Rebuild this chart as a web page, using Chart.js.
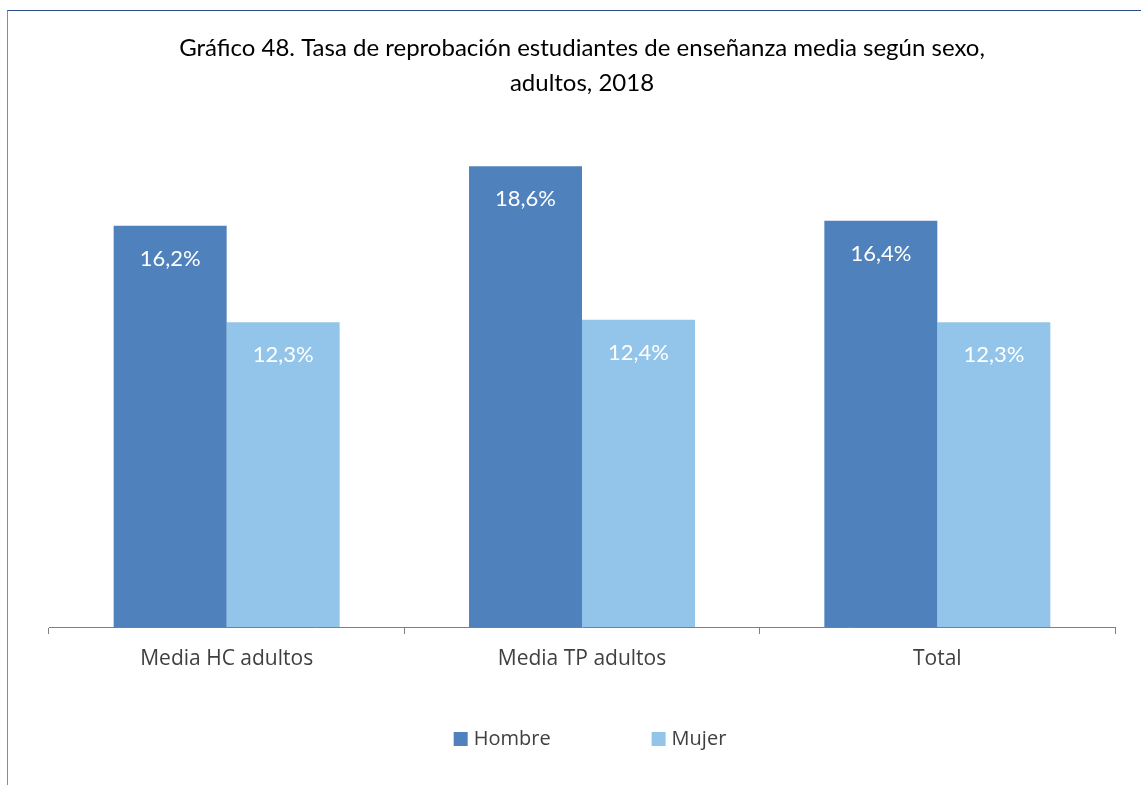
<!DOCTYPE html>
<html lang="es">
<head>
<meta charset="utf-8">
<title>Gráfico 48</title>
<script src="https://cdn.jsdelivr.net/npm/chart.js@4.4.1/dist/chart.umd.min.js"></script>
<style>
    html, body { margin: 0; padding: 0; background: #fff; }
    .wrap { position: relative; width: 1141px; height: 785px; overflow: hidden; }
    .frame {
        position: absolute; left: 7px; top: 10px; width: 1300px; height: 900px;
        border-top: 1px solid #2b4a88; border-left: 1px solid #7c8cba;
        pointer-events: none;
    }
</style>
</head>
<body>
<div class="wrap">
    <canvas id="chart"></canvas>
    <div class="frame"></div>
</div>
<script>
// Chart data
const categories = ['Media HC adultos', 'Media TP adultos', 'Total'];
const seriesNames = ['Hombre', 'Mujer'];
const hombreValues = [16.2, 18.6, 16.4];
const mujerValues = [12.3, 12.4, 12.3];
const titleLines = [
    'Gráfico 48. Tasa de reprobación estudiantes de enseñanza media según sexo,',
    'adultos, 2018'
];

const COLORS = ['#4f81bd', '#93c5ea'];
const TITLE_FONT = 'Lato, sans-serif';
const LABEL_FONT = '"Open Sans", Lato, sans-serif';

// Percent with decimal comma
function formatPct(v) {
    return v.toFixed(1).replace('.', ',') + '%';
}

// Value labels inside the top of each bar
const valueLabels = {
    id: 'valueLabels',
    afterDatasetsDraw(chart) {
        const ctx = chart.ctx;
        ctx.save();
        ctx.fillStyle = '#ffffff';
        ctx.font = '22px ' + TITLE_FONT;
        ctx.textAlign = 'center';
        ctx.textBaseline = 'middle';
        chart.data.datasets.forEach((ds, i) => {
            chart.getDatasetMeta(i).data.forEach((bar, j) => {
                ctx.fillText(formatPct(ds.data[j]), bar.x, bar.y + 33);
            });
        });
        ctx.restore();
    }
};

// Legend row under the axis
const bottomLegend = {
    id: 'bottomLegend',
    afterDraw(chart) {
        const ctx = chart.ctx;
        const box = 14, gap = 6, spacing = 101;
        const y = 739;
        ctx.save();
        ctx.font = '20px ' + LABEL_FONT;
        ctx.textBaseline = 'middle';
        const widths = chart.data.datasets.map(ds => box + gap + ctx.measureText(ds.label).width);
        const total = widths.reduce((a, b) => a + b, 0) + spacing * (widths.length - 1);
        const area = chart.chartArea;
        let x = (area.left + area.right) / 2 + 8 - total / 2;
        chart.data.datasets.forEach((ds, i) => {
            ctx.fillStyle = ds.backgroundColor;
            ctx.fillRect(x, y - box / 2, box, box);
            ctx.fillStyle = '#404040';
            ctx.fillText(ds.label, x + box + gap, y);
            x += widths[i] + spacing;
        });
        ctx.restore();
    }
};

const chart = new Chart(document.getElementById('chart'), {
    type: 'bar',
    data: {
        labels: categories,
        datasets: [
            { label: seriesNames[0], data: hombreValues, backgroundColor: COLORS[0] },
            { label: seriesNames[1], data: mujerValues, backgroundColor: COLORS[1] }
        ]
    },
    options: {
        responsive: true,
        maintainAspectRatio: false,
        animation: false,
        categoryPercentage: 0.636,
        barPercentage: 1,
        layout: { padding: { left: 49, right: 26, top: 0, bottom: 0 } },
        plugins: {
            legend: { display: false },
            tooltip: { enabled: false },
            title: {
                display: true,
                text: titleLines,
                color: '#000000',
                font: { family: TITLE_FONT, size: 24, weight: 'normal', lineHeight: 1.45 },
                padding: { top: 31, bottom: 31 }
            }
        },
        scales: {
            x: {
                grid: {
                    drawOnChartArea: false,
                    drawTicks: true,
                    tickLength: 7,
                    color: '#7f7f7f'
                },
                border: { color: '#7f7f7f' },
                ticks: {
                    color: '#404040',
                    padding: 12,
                    font: { family: LABEL_FONT, size: 21 }
                },
                afterFit(scale) {
                    scale.height = 158;
                }
            },
            y: {
                display: false,
                min: 0,
                max: 20
            }
        }
    },
    plugins: [valueLabels, bottomLegend]
});
</script>
</body>
</html>
